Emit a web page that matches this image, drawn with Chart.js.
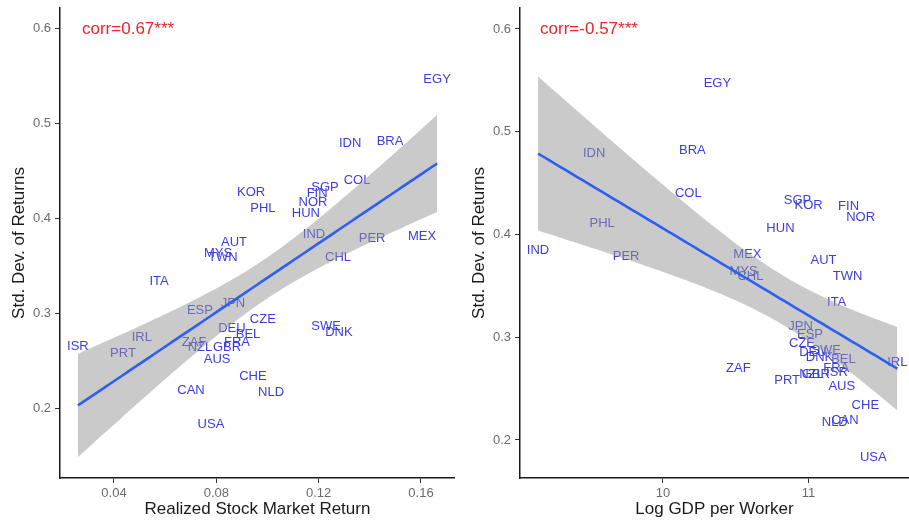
<!DOCTYPE html>
<html>
<head>
<meta charset="utf-8">
<script src="https://cdn.jsdelivr.net/npm/chart.js@4.4.1/dist/chart.umd.min.js"></script>
<style>
  html, body { margin: 0; padding: 0; background: #fff; }
  #wrap { position: relative; width: 909px; height: 521px; }
  .panel { position: absolute; top: 0; height: 521px; }
  #p1 { left: 0; width: 455px; }
  #p2 { left: 460px; width: 449px; }
</style>
</head>
<body>
<div id="wrap">
  <div class="panel" id="p1"><canvas id="c1"></canvas></div>
  <div class="panel" id="p2"><canvas id="c2"></canvas></div>
</div>
<script>
// Country codes and their values
const countries = ['EGY','IDN','BRA','COL','KOR','SGP','FIN','NOR','PHL','HUN',
                   'IND','PER','MEX','AUT','MYS','TWN','CHL','ITA','JPN','ESP',
                   'CZE','DEU','SWE','DNK','BEL','ISR','IRL','ZAF','FRA','NZL',
                   'GBR','PRT','AUS','CHE','CAN','NLD','USA'];

const stdDevReturns = [0.547,0.479,0.482,0.440,0.428,0.433,0.427,0.417,0.411,0.406,
                       0.384,0.379,0.381,0.375,0.364,0.359,0.359,0.334,0.311,0.303,
                       0.294,0.285,0.287,0.280,0.278,0.266,0.275,0.270,0.270,0.264,
                       0.264,0.258,0.252,0.234,0.219,0.217,0.183];

const realizedReturn = [0.1663,0.1323,0.1479,0.1350,0.0936,0.1225,0.1194,0.1178,0.0982,0.1150,
                        0.1182,0.1409,0.1604,0.0869,0.0807,0.0826,0.1276,0.0576,0.0865,0.0736,
                        0.0982,0.0861,0.1229,0.1279,0.0924,0.0259,0.0509,0.0713,0.0881,0.0736,
                        0.0842,0.0435,0.0803,0.0943,0.0701,0.1014,0.0779];

const logGdpPerWorker = [10.374,9.527,10.202,10.174,11.000,10.924,11.275,11.358,9.582,10.807,
                         9.142,9.747,10.580,11.103,10.553,11.268,10.601,11.193,10.945,11.010,
                         10.955,11.030,11.120,11.075,11.240,11.195,11.610,10.518,11.190,11.020,
                         11.050,10.853,11.228,11.390,11.250,11.180,11.445];

const returnTicks = [0.04, 0.08, 0.12, 0.16];
const gdpTicks = [10, 11];
const sdTicks = [0.2, 0.3, 0.4, 0.5, 0.6];
const corrLabels = ['corr=0.67***', 'corr=-0.57***'];
const corrAnchorX = [0.0275, 9.156];
const corrAnchorY = 0.6;

const T_975 = 2.030; // two-sided 95% t quantile for n - 2 = 35 degrees of freedom
const FONT = "'Liberation Sans', Arial, Helvetica, sans-serif";

// Ordinary least squares fit with a 95% confidence band for the mean
function linearFit(xs, ys) {
  const n = xs.length;
  const xbar = xs.reduce((a, b) => a + b, 0) / n;
  const ybar = ys.reduce((a, b) => a + b, 0) / n;
  let sxx = 0, sxy = 0;
  for (let i = 0; i < n; i++) {
    sxx += (xs[i] - xbar) ** 2;
    sxy += (xs[i] - xbar) * (ys[i] - ybar);
  }
  const b = sxy / sxx, a = ybar - b * xbar;
  let rss = 0;
  for (let i = 0; i < n; i++) rss += (ys[i] - a - b * xs[i]) ** 2;
  const s2 = rss / (n - 2);
  const lo = Math.min(...xs), hi = Math.max(...xs);
  const fit = [], upper = [], lower = [];
  const steps = 80;
  for (let k = 0; k <= steps; k++) {
    const x = lo + (hi - lo) * k / steps;
    const yhat = a + b * x;
    const se = Math.sqrt(s2 * (1 / n + (x - xbar) ** 2 / sxx));
    fit.push({ x, y: yhat });
    upper.push({ x, y: yhat + T_975 * se });
    lower.push({ x, y: yhat - T_975 * se });
  }
  return { fit, upper, lower };
}

const labelPlugin = {
  id: 'countryLabels',
  beforeDatasetsDraw(chart, args, opts) {
    const ctx = chart.ctx;
    const meta = chart.getDatasetMeta(chart.data.datasets.findIndex(d => d.isCountryData));
    ctx.save();
    ctx.font = `13px ${FONT}`;
    ctx.fillStyle = '#3d3ddc';
    ctx.textAlign = 'center';
    ctx.textBaseline = 'middle';
    meta.data.forEach((pt, i) => ctx.fillText(countries[i], pt.x, pt.y));
    const xs = chart.scales.x, ys = chart.scales.y;
    ctx.font = `17px ${FONT}`;
    ctx.fillStyle = '#e8262b';
    ctx.textAlign = 'left';
    ctx.fillText(opts.text, xs.getPixelForValue(opts.x), ys.getPixelForValue(opts.y));
    ctx.restore();
  }
};

function makePanel(canvasId, xs, cfg) {
  const model = linearFit(xs, stdDevReturns);
  const points = xs.map((x, i) => ({ x, y: stdDevReturns[i] }));
  const axisCommon = {
    type: 'linear',
    grid: { display: true, drawOnChartArea: false, drawTicks: true, tickLength: 5, color: '#333', lineWidth: 1 },
    border: { display: true, color: '#1a1a1a', width: 1.5 },
  };
  return new Chart(document.getElementById(canvasId), {
    type: 'scatter',
    data: {
      datasets: [
        { isCountryData: true, data: points, pointRadius: 0, showLine: false, order: 3 },
        { type: 'line', data: model.upper, pointRadius: 0, borderWidth: 0, fill: false, order: 2 },
        { type: 'line', data: model.lower, pointRadius: 0, borderWidth: 0,
          fill: '-1', backgroundColor: 'rgba(150,150,150,0.5)', order: 2 },
        { type: 'line', data: model.fit, pointRadius: 0, borderWidth: 2.6,
          borderColor: '#2f5ff0', fill: false, order: 0 }
      ]
    },
    options: {
      responsive: true,
      maintainAspectRatio: false,
      animation: false,
      events: [],
      layout: { padding: { top: 8, right: 0, bottom: 0, left: 0 } },
      plugins: {
        legend: { display: false },
        tooltip: { enabled: false },
        countryLabels: { text: cfg.corrText, x: cfg.corrX, y: corrAnchorY }
      },
      scales: {
        x: Object.assign({}, axisCommon, {
          min: cfg.xMin, max: cfg.xMax,
          afterBuildTicks: s => { s.ticks = cfg.xTicks.map(v => ({ value: v })); },
          afterFit: s => { s.height = 43; },
          ticks: { font: { family: FONT, size: 13 }, color: '#6b6b6b', padding: 3,
                   maxRotation: 0, callback: cfg.xFmt },
          title: { display: true, text: cfg.xTitle, color: '#1a1a1a',
                   font: { family: FONT, size: 17 }, padding: { top: 0, bottom: 1 } }
        }),
        y: Object.assign({}, axisCommon, {
          min: cfg.yMin, max: cfg.yMax,
          afterBuildTicks: s => { s.ticks = sdTicks.map(v => ({ value: v })); },
          afterFit: s => { s.width = 60; s.paddingTop = 0; s.paddingBottom = 0; },
          ticks: { font: { family: FONT, size: 13 }, color: '#6b6b6b', padding: 4,
                   callback: v => v.toFixed(1) },
          title: { display: true, text: 'Std. Dev. of Returns', color: '#1a1a1a',
                   font: { family: FONT, size: 17 }, padding: { top: 9, bottom: 0 } }
        })
      }
    },
    plugins: [labelPlugin]
  });
}

makePanel('c1', realizedReturn, {
  xMin: 0.0189, xMax: 0.1733, yMin: 0.127, yMax: 0.622,
  xTicks: returnTicks, xFmt: v => v.toFixed(2),
  xTitle: 'Realized Stock Market Return',
  corrText: corrLabels[0], corrX: corrAnchorX[0]
});

makePanel('c2', logGdpPerWorker, {
  xMin: 9.018, xMax: 11.69, yMin: 0.163, yMax: 0.6204,
  xTicks: gdpTicks, xFmt: v => String(v),
  xTitle: 'Log GDP per Worker',
  corrText: corrLabels[1], corrX: corrAnchorX[1]
});
</script>
</body>
</html>
